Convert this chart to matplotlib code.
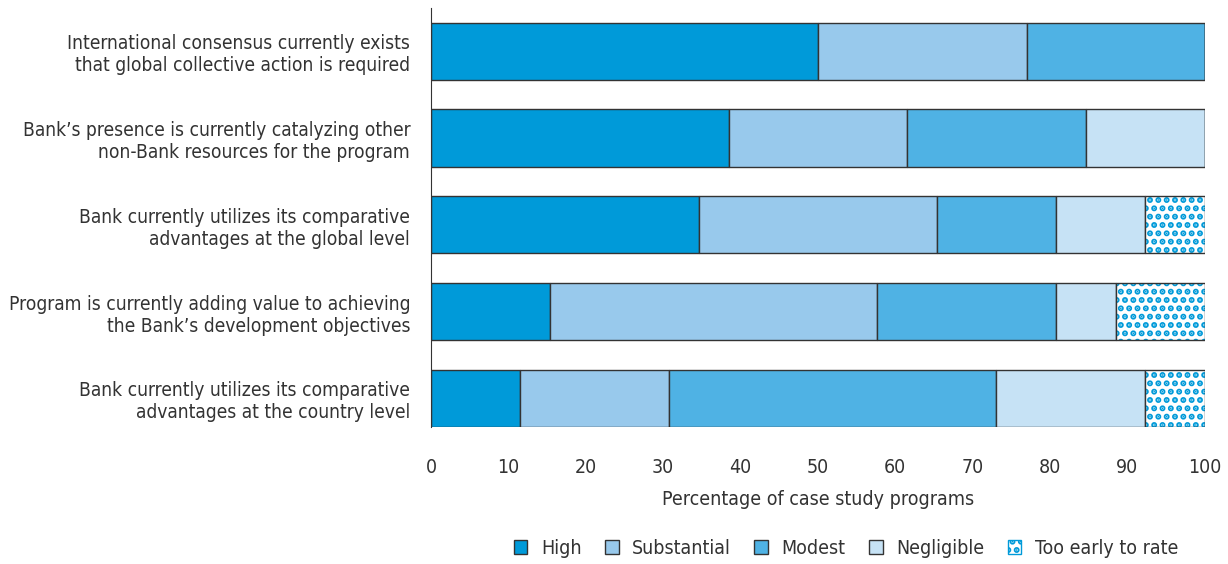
import matplotlib
matplotlib.use("Agg")
import matplotlib.pyplot as plt
from matplotlib.patches import Patch
import numpy as np

plt.rcParams['font.family'] = ['DejaVu Sans']
plt.rcParams['font.stretch'] = 'condensed'
plt.rcParams['hatch.linewidth'] = 3.0

# dados
criterios = [
    "International consensus currently exists\nthat global collective action is required",
    "Bank\u2019s presence is currently catalyzing other\nnon-Bank resources for the program",
    "Bank currently utilizes its comparative\nadvantages at the global level",
    "Program is currently adding value to achieving\nthe Bank\u2019s development objectives",
    "Bank currently utilizes its comparative\nadvantages at the country level",
]
categorias = ["High", "Substantial", "Modest", "Negligible", "Too early to rate"]
high = [50.0, 38.5, 34.6, 15.4, 11.5]
substantial = [27.0, 23.0, 30.8, 42.3, 19.2]
modest = [23.0, 23.1, 15.4, 23.1, 42.3]
negligible = [0.0, 15.4, 11.5, 7.7, 19.3]
too_early = [0.0, 0.0, 7.7, 11.5, 7.7]

cores = ['#009ad9', '#98c9ec', '#4fb2e4', '#c6e2f5', 'white']

fig = plt.figure(figsize=(12.28, 5.64), dpi=100)
ax = fig.add_axes([0.351, 0.243, 0.630, 0.743])

y = np.arange(len(criterios))
esquerda = np.zeros(len(criterios))
handles = []
for nome, valores, cor in zip(categorias, [high, substantial, modest, negligible, too_early], cores):
    valores = np.array(valores)
    if nome == "Too early to rate":
        # pontilhado azul sobre branco, contorno escuro por cima
        ax.barh(y, valores, left=esquerda, height=0.66, color='white', edgecolor='#009ad9',
                linewidth=0, hatch='..')
        ax.barh(y, valores, left=esquerda, height=0.66, fill=False, edgecolor='#333333',
                linewidth=1.0)
        handles.append(Patch(facecolor='white', edgecolor='#009ad9', hatch='..', label=nome))
    else:
        h = ax.barh(y, valores, left=esquerda, height=0.66, color=cor, edgecolor='#333333',
                    linewidth=1.0, label=nome)
        handles.append(h)
    esquerda += valores

ax.set_yticks(y)
ax.set_yticklabels(criterios, fontsize=13.8, color='#333333')
ax.set_ylim(4.33, -0.5)
ax.set_xlim(0, 100)
ax.set_xticks(range(0, 101, 10))
ax.tick_params(axis='x', length=0, labelsize=14, labelcolor='#333333', pad=22)
ax.tick_params(axis='y', length=0, pad=15)
for lado in ['top', 'right', 'bottom']:
    ax.spines[lado].set_visible(False)
ax.spines['left'].set_color('#333333')
ax.set_xlabel("Percentage of case study programs", fontsize=14, color='#333333', labelpad=10)
for t in ax.get_yticklabels():
    t.set_multialignment('right')

fig.legend(handles=handles, labels=categorias, loc='center', bbox_to_anchor=(0.689, 0.028),
           ncol=5, frameon=False, fontsize=14, handlelength=0.7, handleheight=0.7,
           columnspacing=1.2, handletextpad=0.7, labelcolor='#333333')

fig.savefig("out.png", dpi=100)
